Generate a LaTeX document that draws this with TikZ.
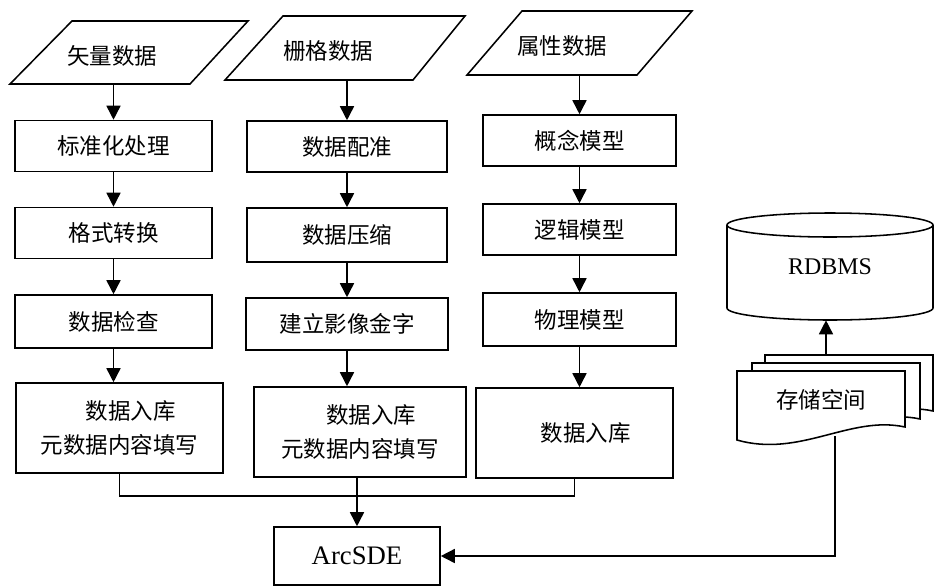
\documentclass[tikz,border=0pt]{standalone}
\usepackage{fontspec}
\setmainfont{Liberation Serif}
\newfontfamily\cjk{Noto Sans CJK SC}
\usetikzlibrary{arrows.meta}

\tikzset{
  line/.style={line width=1.1pt},
  box/.style={draw,line,minimum width=4.925cm,minimum height=1.275cm,
    inner sep=2pt,align=center,font=\cjk\fontsize{16}{24}\selectfont},
  intext/.style={inner sep=2pt,font=\cjk\fontsize{16}{24}\selectfont},
  arr/.style={line,-{Triangle[length=10pt,width=10pt]}}
}

\begin{document}
\begin{tikzpicture}[x=0.025cm,y=-0.025cm]
\useasboundingbox (0,0) rectangle (935,587);

% input data
\draw[line] (72,21) -- (248,21) -- (190,84) -- (10,84) -- cycle;
\draw[line] (283,16) -- (465,16) -- (413,80) -- (225,80) -- cycle;
\draw[line] (522,11) -- (692,11) -- (637,75) -- (467,75) -- cycle;
\node[intext] (vec) at (112,56) {矢量数据};
\node[intext] (ras) at (328,51) {栅格数据};
\node[intext] (att) at (562,46) {属性数据};
\coordinate (vecb) at (106,84);
\coordinate (rasb) at (322,80);
\coordinate (attb) at (575,75);

% vector column
\node[box] (v1) at (113.5,146) {标准化处理};
\node[box] (v2) at (113.5,233) {格式转换};
\node[box,minimum height=1.325cm] (v3) at (113.5,321.5) {数据检查};
\node[box,minimum width=5.175cm,minimum height=2.25cm] (v4) at (119.5,428) {\hspace{1em}数据入库\\元数据内容填写};

% raster column
\node[box,minimum width=5cm] (r1) at (347,146.5) {数据配准};
\node[box,minimum width=5cm,minimum height=1.35cm] (r2) at (347,235) {数据压缩};
\node[box,minimum width=5.05cm,minimum height=1.3cm] (r3) at (347,324) {建立影像金字};
\node[box,minimum width=5.3cm,minimum height=2.25cm] (r4) at (360,432) {\hspace{1em}数据入库\\元数据内容填写};

% attribute column
\node[box,minimum width=4.825cm] (a1) at (579.5,140.5) {概念模型};
\node[box,minimum width=4.825cm] (a2) at (579.5,229.5) {逻辑模型};
\node[box,minimum width=4.825cm,minimum height=1.325cm] (a3) at (579.5,319.5) {物理模型};
\node[box,minimum height=2.25cm] (a4) at (574.5,433) {\hspace{1em}数据入库};

\node[box,minimum width=4.15cm,minimum height=1.45cm,font=\fontsize{19}{22}\selectfont] (sde) at (357,556) {ArcSDE};

% database
\draw[line] (727,225) -- (727,308) arc[start angle=180,end angle=0,x radius=103,y radius=12] -- (933,225);
\draw[line] (830,225) ellipse [x radius=103,y radius=12];
\node[minimum width=5.15cm,minimum height=2.675cm,font=\fontsize{17}{20}\selectfont] (db) at (830,266.5) {RDBMS};

% storage
\foreach \dx/\dy in {28/-16,15/-8,0/0}
  \draw[line,fill=white,shift={(\dx,\dy)}] (737,371) -- (905,371) -- (905,427)
    .. controls (850,415) and (800,458) .. (737,440) -- cycle;
\node[minimum width=4.2cm,minimum height=1.85cm,font=\cjk\fontsize{16}{24}\selectfont] (sto) at (821,400) {存储空间};
\coordinate (stotop) at (826,355);
\coordinate (stobot) at (835,436);

\draw[arr] (v1.north |- vecb) -- (v1.north);
\draw[arr] (v1) -- (v2);
\draw[arr] (v2) -- (v3);
\draw[arr] (v3.south) -- (v3.south |- v4.north);
\draw[arr] (r1.north |- rasb) -- (r1.north);
\draw[arr] (r1) -- (r2);
\draw[arr] (r2) -- (r3);
\draw[arr] (r3.south) -- (r3.south |- r4.north);
\draw[arr] (a1.north |- attb) -- (a1.north);
\draw[arr] (a1) -- (a2);
\draw[arr] (a2) -- (a3);
\draw[arr] (a3.south) -- (a3.south |- a4.north);

\draw[line] (v4.south) -- ++(0,22) -| (a4.south);
\draw[arr] (sde.north |- r4.south) -- (sde.north);
\draw[arr] (stobot) |- (sde.east);
\draw[arr] (stotop) -- (stotop |- db.south);
\end{tikzpicture}
\end{document}
